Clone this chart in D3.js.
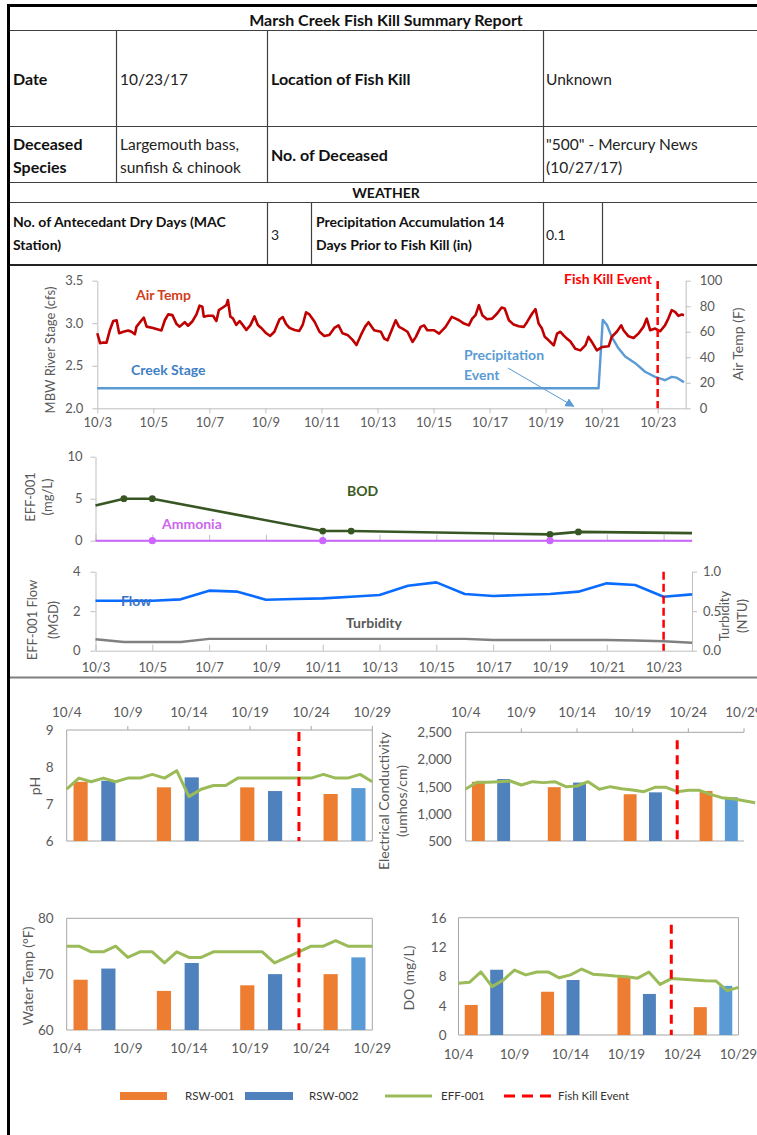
<!DOCTYPE html>
<html>
<head>
<meta charset="utf-8">
<title>Marsh Creek Fish Kill Summary Report</title>
<script src="https://cdn.jsdelivr.net/npm/d3@7/dist/d3.min.js"></script>
<style>
  html, body { margin: 0; padding: 0; background: #fff; }
  svg { display: block; }
</style>
</head>
<body>
<svg id="report" width="757" height="1135"></svg>
<script>
// ================= DATA =================
// Report header
const reportTitle = "Marsh Creek Fish Kill Summary Report";
const killDateText = "10/23/17";
const killLocation = "Unknown";
const deceasedSpecies = ["Largemouth bass,", "sunfish & chinook"];
const deceasedCount = ["\"500\" - Mercury News", "(10/27/17)"];
const dryDays = "3";
const precip14Days = "0.1";

// Weather panel: air temperature (deg F) and creek stage (cfs), days after 10/3 00:00
const airTempDay = [0.00,0.10,0.21,0.33,0.45,0.57,0.69,0.78,0.93,1.10,1.22,1.34,1.40,1.58,1.66,1.76,1.99,2.29,2.41,2.53,2.68,2.83,2.94,3.12,3.24,3.39,3.54,3.65,3.75,3.80,3.95,4.13,4.25,4.34,4.48,4.61,4.66,4.75,4.84,4.96,5.08,5.20,5.32,5.46,5.61,5.73,5.85,6.03,6.17,6.32,6.50,6.62,6.74,6.86,7.04,7.21,7.33,7.45,7.57,7.75,7.93,8.10,8.28,8.46,8.61,8.75,8.93,9.11,9.25,9.41,9.56,9.68,
  9.88,10.12,10.24,10.36,10.53,10.65,10.77,10.89,11.07,11.25,11.37,11.54,11.66,11.78,12.02,12.20,12.43,12.65,12.79,12.91,13.09,13.26,13.38,13.50,13.62,13.74,13.91,14.09,14.27,14.43,14.54,14.69,14.86,15.04,15.22,15.34,15.52,15.64,15.75,15.87,15.97,16.11,16.29,16.41,16.53,16.64,16.76,16.88,17.06,17.24,17.42,17.53,17.65,17.83,18.01,18.25,18.36,18.54,18.70,18.78,18.96,19.14,19.31,19.49,19.61,19.73,19.91,20.09,20.26,20.38,20.50,20.62,20.74,20.86,20.94];
const airTempF = [58.8,51,51.5,51.5,61.4,68.4,69,58.8,60,61,60,58,64,69,71,64,63,61,69,73.6,73,66,64,67.5,64.7,68,73.6,80.4,79.6,71.8,72.5,72.5,68.4,77,79,81,84.9,71.8,70.5,65.3,68.4,65,61.4,65,72,65.3,63,58.8,56.7,60,69.6,71.5,66,63,61.4,60.6,65.3,75.2,73.6,68,60,56.7,57.5,63,65,58.8,57.5,53.6,49.6,57.5,64,67.5,
  61.2,60,54.6,53.3,62.5,69,63.8,62.5,60,52,56,63.8,65,61.2,61.2,58.5,63.8,71.7,70.3,69,66.4,65,70.3,73,80.8,73,69.8,70.3,74.3,79,78.2,69,65.6,64.3,63.8,67.7,74.3,77.7,66.4,62.5,56,53.3,49.3,58.5,60,57.2,54.6,52.5,46.7,45.4,49.3,56,52,45.4,48,48.6,56,60,65,61.2,56.4,55.1,58.5,63.8,70.3,61.2,62.5,60.4,65,70.3,76.9,75.6,72.4,73.5,73];
const creekStageDay = [0, 17.89, 18.04, 18.19, 18.36, 18.60, 18.84, 19.20, 19.55, 19.91, 20.26, 20.50, 20.68, 20.94];
const creekStageCfs = [2.235, 2.235, 3.04, 2.98, 2.84, 2.705, 2.61, 2.53, 2.43, 2.37, 2.33, 2.37, 2.36, 2.305];
const stageTicks = [2.0, 2.5, 3.0, 3.5];
const airTempTicks = [0, 20, 40, 60, 80, 100];
const precipEventDate = "10/20";
const fishKillDate = "10/23";

// Effluent (EFF-001) daily record
const effDates = ["10/3","10/4","10/5","10/6","10/7","10/8","10/9","10/10","10/11","10/12","10/13","10/14","10/15","10/16","10/17","10/18","10/19","10/20","10/21","10/22","10/23","10/24"];
const dailyTickDates = ["10/3","10/5","10/7","10/9","10/11","10/13","10/15","10/17","10/19","10/21","10/23"];
const bodDates = ["10/3","10/4","10/5","10/11","10/12","10/19","10/20","10/24"];
const bodMgL = [4.2, 5.0, 5.0, 1.15, 1.15, 0.75, 1.05, 0.9];
const bodSampleDates = ["10/4","10/5","10/11","10/12","10/19","10/20"];
const ammoniaDates = ["10/3","10/5","10/11","10/19","10/24"];
const ammoniaMgL = [0, 0, 0, 0, 0];
const ammoniaSampleDates = ["10/5","10/11","10/19"];
const bodTicks = [0, 5, 10];
const flowMGD = [2.53,2.53,2.53,2.6,3.04,2.99,2.58,2.62,2.65,2.73,2.82,3.29,3.46,2.87,2.77,2.82,2.87,2.99,3.41,3.33,2.73,2.85];
const turbidityNTU = [0.145,0.11,0.11,0.11,0.15,0.15,0.15,0.15,0.15,0.15,0.15,0.15,0.15,0.15,0.135,0.135,0.135,0.135,0.135,0.13,0.12,0.10];
const flowTicks = [0, 2, 4];
const turbidityTicks = [0, 0.5, 1.0];

// Receiving water (RSW) grab samples and effluent daily values
const labDates = ["10/4","10/5","10/6","10/7","10/8","10/9","10/10","10/11","10/12","10/13","10/14","10/15","10/16","10/17","10/18","10/19","10/20","10/21","10/22","10/23","10/24","10/25","10/26","10/27","10/28","10/29"];
const labTickDates = ["10/4","10/9","10/14","10/19","10/24","10/29"];
const sampleCategories = ["R1-001","R1-002","gap1","R2-001","R2-002","gap2","R3-001","R3-002","gap3","R4-001","R4-002"];
const sampleRounds = [1, 2, 3, 4];

const phEff = [7.4,7.7,7.6,7.7,7.6,7.7,7.7,7.8,7.7,7.9,7.2,7.4,7.5,7.5,7.7,7.7,7.7,7.7,7.7,7.7,7.7,7.8,7.7,7.7,7.8,7.6];
const phRsw001 = [7.6, 7.45, 7.45, 7.27];
const phRsw002 = [7.63, 7.72, 7.35, 7.43];
const phTicks = [6, 7, 8, 9];

const ecEffDates = labDates.concat(["10/30"]);
const ecEff = [1457,1580,1580,1592,1604,1531,1592,1574,1592,1500,1512,1592,1451,1500,1463,1439,1408,1488,1488,1408,1433,1433,1359,1297,1279,1242,1205];
const ecRsw001 = [1590, 1490, 1360, 1420];
const ecRsw002 = [1640, 1575, 1395, 1305];
const ecTicks = [500, 1000, 1500, 2000, 2500];

const wtEff = [75,75,74,74,75,73,74,74,72,74,73,73,74,74,74,74,74,72,73,74,75,75,76,75,75,75];
const wtRsw001 = [69, 67, 68, 70];
const wtRsw002 = [71, 72, 70, 73];
const wtTicks = [60, 70, 80];

const doEff = [7.05,7.2,8.6,6.6,7.5,8.86,8.2,8.6,8.6,7.8,8.2,9.0,8.3,8.2,8.05,7.95,7.75,8.6,6.9,7.7,7.6,7.5,7.4,7.35,6.05,6.5];
const doRsw001 = [4.1, 5.9, 7.9, 3.8];
const doRsw002 = [8.9, 7.5, 5.6, 6.7];
const doTicks = [0, 4, 8, 12, 16];

const legendItems = ["RSW-001", "RSW-002", "EFF-001", "Fish Kill Event"];

// ================= DRAWING =================
const svg = d3.select("#report");
const FONT = "Lato, 'Noto Sans', sans-serif";
const INK = "#111";
const TICK_TXT = "#595959";
const AXIS_CLR = "#BFBFBF";
const GRID = "#404040";
const ORANGE = "#ED7D31", BLUE = "#4F81BD", LIGHT_BLUE = "#5B9BD5", GREEN = "#9BBB59", RED = "#FF0000";

const parseDate = d3.timeParse("%m/%d/%Y");
const toDate = s => parseDate(s + "/2017");
const startDay = toDate("10/3");
const fromOffset = d => new Date(startDay.getTime() + d * 864e5);
const fmtMD = d3.timeFormat("%-m/%-d");

function label(x, y, str, o = {}) {
  return svg.append("text")
    .attr("x", x).attr("y", y).text(str)
    .attr("font-family", FONT)
    .attr("font-size", o.size || 14)
    .attr("font-weight", o.bold ? 700 : 400)
    .attr("fill", o.fill || INK)
    .attr("text-anchor", o.anchor || "start")
    .attr("dominant-baseline", o.baseline || "auto");
}
function vlabel(x, cy, str, o = {}) {
  return svg.append("text")
    .attr("transform", `translate(${x},${cy}) rotate(-90)`)
    .text(str)
    .attr("font-family", FONT)
    .attr("font-size", o.size || 13)
    .attr("font-weight", o.bold ? 700 : 400)
    .attr("fill", o.fill || TICK_TXT)
    .attr("text-anchor", "middle")
    .attr("dominant-baseline", "central");
}
function seg(x1, y1, x2, y2, stroke, w, dash) {
  const l = svg.append("line")
    .attr("x1", x1).attr("y1", y1).attr("x2", x2).attr("y2", y2)
    .attr("stroke", stroke).attr("stroke-width", w);
  if (dash) l.attr("stroke-dasharray", dash);
  return l;
}
function styleAxis(g, size) {
  g.attr("font-family", FONT).attr("font-size", size || 13);
  g.select(".domain").attr("stroke", AXIS_CLR);
  g.selectAll(".tick line").attr("stroke", AXIS_CLR);
  g.selectAll(".tick text").attr("fill", TICK_TXT);
}

// ---------- header table ----------
seg(10, 30.5, 757, 30.5, GRID, 1.2);
seg(10, 126.5, 757, 126.5, GRID, 1.2);
seg(10, 182.5, 757, 182.5, GRID, 1.2);
seg(10, 202.5, 757, 202.5, GRID, 1.2);
[116.5, 267.5, 543.5].forEach(x => seg(x, 30.5, x, 182.5, GRID, 1.2));
[267.5, 311.5, 543.5, 602.5].forEach(x => seg(x, 202.5, x, 265, GRID, 1.2));

const HB = 16, HN = 15.5;
label(386, 25.5, reportTitle, { bold: true, anchor: "middle", size: HB });
label(13, 85, "Date", { bold: true, size: HB });
label(120, 85, killDateText, { fill: "#222", size: HN });
label(271, 85, "Location of Fish Kill", { bold: true, size: HB });
label(546, 85, killLocation, { fill: "#222", size: HN });
label(13, 149.5, "Deceased", { bold: true, size: HB });
label(13, 172.5, "Species", { bold: true, size: HB });
label(120, 149.5, deceasedSpecies[0], { fill: "#222", size: HN });
label(120, 172.5, deceasedSpecies[1], { fill: "#222", size: HN });
label(271, 160.5, "No. of Deceased", { bold: true, size: HB });
label(546, 149.5, deceasedCount[0], { fill: "#222", size: HN });
label(546, 172.5, deceasedCount[1], { fill: "#222", size: HN });
label(386, 198, "WEATHER", { bold: true, anchor: "middle" });
label(13, 227, "No. of Antecedant Dry Days (MAC", { bold: true });
label(13, 250, "Station)", { bold: true });
label(271, 240, dryDays, { fill: "#222" });
label(316, 227, "Precipitation Accumulation 14", { bold: true });
label(316, 250, "Days Prior to Fish Kill (in)", { bold: true });
label(546, 240, precip14Days, { fill: "#222" });

// section separators
seg(8, 265, 757, 265, "#222", 2);
seg(10, 677.5, 757, 677.5, "#7F7F7F", 2.2);

// ---------- weather panel ----------
const topX = d3.scaleTime().domain([toDate("10/3"), toDate("10/24")]).range([97.3, 685.7]);
const stageY = d3.scaleLinear().domain([2.0, 3.5]).range([408.3, 280.7]);
const tempY = d3.scaleLinear().domain([0, 100]).range([408.3, 280.7]);

styleAxis(svg.append("g").attr("transform", "translate(97.3,0)")
  .call(d3.axisLeft(stageY).tickValues(stageTicks).tickFormat(d3.format(".1f")).tickSize(5).tickSizeOuter(0).tickPadding(9)));
styleAxis(svg.append("g").attr("transform", "translate(685.7,0)")
  .call(d3.axisRight(tempY).tickValues(airTempTicks).tickFormat(d3.format("d")).tickSize(5).tickSizeOuter(0).tickPadding(9)));
styleAxis(svg.append("g").attr("transform", "translate(0,408.3)")
  .call(d3.axisBottom(topX).tickValues(dailyTickDates.map(toDate)).tickFormat(fmtMD).tickSize(5).tickSizeOuter(0).tickPadding(4)));

vlabel(50, 350, "MBW River Stage (cfs)", { size: 13 });
vlabel(737, 344, "Air Temp (F)", { size: 14 });

const stageLine = d3.line().x(d => topX(fromOffset(d[0]))).y(d => stageY(d[1]));
svg.append("path").datum(d3.zip(creekStageDay, creekStageCfs))
  .attr("d", stageLine).attr("fill", "none").attr("stroke", LIGHT_BLUE)
  .attr("stroke-width", 2.4).attr("stroke-linejoin", "round");

const tempLine = d3.line().x(d => topX(fromOffset(d[0]))).y(d => tempY(d[1]));
svg.append("path").datum(d3.zip(airTempDay, airTempF))
  .attr("d", tempLine).attr("fill", "none").attr("stroke", "#C00000")
  .attr("stroke-width", 2.6).attr("stroke-linejoin", "round");

const killXTop = topX(toDate(fishKillDate));
seg(killXTop, 281, killXTop, 408.3, RED, 2.5, "8,4");
label(652, 284, "Fish Kill Event", { bold: true, fill: RED, anchor: "end" });
label(136, 300, "Air Temp", { bold: true, fill: "#D0401C" });
label(131, 375, "Creek Stage", { bold: true, fill: "#3F7FC4" });
label(464, 360, "Precipitation", { bold: true, fill: LIGHT_BLUE });
label(464, 380, "Event", { bold: true, fill: LIGHT_BLUE });

// precipitation event arrow
const defs = svg.append("defs");
defs.append("marker").attr("id", "arrowHead").attr("viewBox", "0 0 10 10")
  .attr("refX", 9).attr("refY", 5).attr("markerWidth", 9).attr("markerHeight", 9)
  .attr("markerUnits", "userSpaceOnUse").attr("orient", "auto")
  .append("path").attr("d", "M0,0 L10,5 L0,10 Z").attr("fill", LIGHT_BLUE);
seg(508, 368, topX(toDate(precipEventDate)), stageY(2.0) - 2, LIGHT_BLUE, 1)
  .attr("marker-end", "url(#arrowHead)");

// ---------- effluent panels ----------
const effX = d3.scaleTime().domain([toDate("10/3"), toDate("10/24")]).range([95.5, 692]);
const bodY = d3.scaleLinear().domain([0, 10]).range([540.7, 456.7]);
const flowY = d3.scaleLinear().domain([0, 4]).range([650.7, 571.7]);
const turbY = d3.scaleLinear().domain([0, 1]).range([650.7, 571.7]);

styleAxis(svg.append("g").attr("transform", "translate(95.5,0)")
  .call(d3.axisLeft(bodY).tickValues(bodTicks).tickFormat(d3.format("d")).tickSize(5).tickSizeOuter(0).tickPadding(8)));
// BOD/ammonia baseline ticks (inside)
styleAxis(svg.append("g").attr("transform", "translate(0,540.7)")
  .call(d3.axisTop(effX).tickValues(dailyTickDates.map(toDate)).tickFormat("").tickSize(6).tickSizeOuter(0)));

vlabel(29.5, 497, "EFF-001", { size: 13 });
vlabel(47, 497, "(mg/L)", { size: 13 });

const bodLine = d3.line().x(d => effX(toDate(d[0]))).y(d => bodY(d[1]));
svg.append("path").datum(d3.zip(bodDates, bodMgL)).attr("d", bodLine)
  .attr("fill", "none").attr("stroke", "#375623").attr("stroke-width", 2.6).attr("stroke-linejoin", "round");
svg.selectAll("circle.bod").data(d3.zip(bodDates, bodMgL).filter(d => bodSampleDates.includes(d[0])))
  .join("circle").attr("class", "bod")
  .attr("cx", d => effX(toDate(d[0]))).attr("cy", d => bodY(d[1])).attr("r", 3.4).attr("fill", "#375623");

svg.append("path").datum(d3.zip(ammoniaDates, ammoniaMgL)).attr("d", bodLine)
  .attr("fill", "none").attr("stroke", "#CC66FF").attr("stroke-width", 2);
svg.selectAll("circle.nh3").data(d3.zip(ammoniaDates, ammoniaMgL).filter(d => ammoniaSampleDates.includes(d[0])))
  .join("circle").attr("class", "nh3")
  .attr("cx", d => effX(toDate(d[0]))).attr("cy", d => bodY(d[1])).attr("r", 3.6).attr("fill", "#CC66FF");

label(347, 496, "BOD", { bold: true, fill: "#3A5A1E" });
label(162, 529, "Ammonia", { bold: true, fill: "#CC66EE" });

// flow / turbidity
styleAxis(svg.append("g").attr("transform", "translate(95.5,0)")
  .call(d3.axisLeft(flowY).tickValues(flowTicks).tickFormat(d3.format("d")).tickSize(5).tickSizeOuter(0).tickPadding(10)));
styleAxis(svg.append("g").attr("transform", "translate(692,0)")
  .call(d3.axisRight(turbY).tickValues(turbidityTicks).tickFormat(d3.format(".1f")).tickSize(5).tickSizeOuter(0).tickPadding(6)));
styleAxis(svg.append("g").attr("transform", "translate(0,650.7)")
  .call(d3.axisTop(effX).tickValues(dailyTickDates.map(toDate)).tickFormat("").tickSize(6).tickSizeOuter(0)));
const effLabels = svg.append("g").attr("transform", "translate(0,650.7)")
  .call(d3.axisBottom(effX).tickValues(dailyTickDates.map(toDate)).tickFormat(fmtMD).tickSize(0).tickPadding(12));
styleAxis(effLabels);
effLabels.select(".domain").remove();

vlabel(32, 620, "EFF-001  Flow", { size: 13 });
vlabel(52.5, 620, "(MGD)", { size: 13 });
vlabel(723.5, 616, "Turbidity", { size: 13 });
vlabel(741.5, 616, "(NTU)", { size: 13 });

svg.append("path").datum(d3.zip(effDates, turbidityNTU))
  .attr("d", d3.line().x(d => effX(toDate(d[0]))).y(d => turbY(d[1])))
  .attr("fill", "none").attr("stroke", "#808080").attr("stroke-width", 2.4).attr("stroke-linejoin", "round");
svg.append("path").datum(d3.zip(effDates, flowMGD))
  .attr("d", d3.line().x(d => effX(toDate(d[0]))).y(d => flowY(d[1])))
  .attr("fill", "none").attr("stroke", "#0A6CFF").attr("stroke-width", 2.6).attr("stroke-linejoin", "round");

label(121, 606, "Flow", { bold: true, fill: "#3B73C4" });
label(346, 628, "Turbidity", { bold: true, fill: "#595959" });
const killXEff = effX(toDate(fishKillDate));
seg(killXEff, 571.7, killXEff, 650.7, RED, 2.5, "8,4");

// ---------- receiving water panels ----------
function labPanel(p) {
  const x = d3.scaleTime().domain([toDate("10/4"), toDate("10/29")]).range([p.left, p.right]);
  const y = d3.scaleLinear().domain(p.yDomain).range([p.bottom, p.top]);
  const band = d3.scaleBand().domain(sampleCategories).range([p.left, p.right])
    .paddingInner(0.49).paddingOuter(0.245);
  const g = svg.append("g");
  const frame = "#A6A6A6";

  // plot frame
  g.append("line").attr("x1", p.left).attr("x2", p.right).attr("y1", p.top).attr("y2", p.top).attr("stroke", frame);
  g.append("line").attr("x1", p.left).attr("x2", p.right).attr("y1", p.bottom).attr("y2", p.bottom).attr("stroke", frame);
  g.append("line").attr("x1", p.left).attr("x2", p.left).attr("y1", p.top).attr("y2", p.bottom).attr("stroke", frame);
  if (p.rightEdge) g.append("line").attr("x1", p.right).attr("x2", p.right).attr("y1", p.top).attr("y2", p.bottom).attr("stroke", frame);

  // bars
  const bars = [];
  sampleRounds.forEach((r, i) => {
    bars.push({ cat: `R${r}-001`, site: "RSW-001", round: r, v: p.rsw001[i] });
    bars.push({ cat: `R${r}-002`, site: "RSW-002", round: r, v: p.rsw002[i] });
  });
  const barColor = d => d.site === "RSW-001" ? ORANGE : (d.round === 4 ? LIGHT_BLUE : BLUE);
  g.selectAll("rect").data(bars).join("rect")
    .attr("x", d => band(d.cat)).attr("width", band.bandwidth())
    .attr("y", d => y(d.v)).attr("height", d => y(p.yDomain[0]) - y(d.v))
    .attr("fill", barColor);

  // effluent line
  g.append("path").datum(d3.zip(p.lineDates, p.lineValues))
    .attr("d", d3.line().x(d => x(toDate(d[0]))).y(d => y(d[1])))
    .attr("fill", "none").attr("stroke", GREEN).attr("stroke-width", 3).attr("stroke-linejoin", "round");

  // fish kill marker
  const kx = x(toDate(fishKillDate));
  g.append("line").attr("x1", kx).attr("x2", kx).attr("y1", p.top + p.killPad).attr("y2", p.bottom)
    .attr("stroke", RED).attr("stroke-width", 3).attr("stroke-dasharray", "9,6");

  // y tick labels
  g.selectAll("text.yt").data(p.yTicks).join("text").attr("class", "yt")
    .attr("x", p.left - p.yPad).attr("y", d => y(d)).text(p.yFormat)
    .attr("text-anchor", "end").attr("dominant-baseline", "central")
    .attr("font-family", FONT).attr("font-size", 13.5).attr("fill", TICK_TXT);

  // x tick labels (top or bottom)
  g.selectAll("text.xt").data(labTickDates).join("text").attr("class", "xt")
    .attr("x", d => x(toDate(d))).attr("y", p.xLabelY).text(d => d)
    .attr("text-anchor", "middle").attr("dominant-baseline", "central")
    .attr("font-family", FONT).attr("font-size", 13.5).attr("fill", TICK_TXT);
  if (p.topTicks) {
    g.selectAll("line.xtk").data(labTickDates.slice(1)).join("line").attr("class", "xtk")
      .attr("x1", d => x(toDate(d))).attr("x2", d => x(toDate(d)))
      .attr("y1", p.top - 4).attr("y2", p.top).attr("stroke", frame);
  }
  p.yLabel.forEach((t, i) => vlabel(p.yLabelX[i], p.yLabelCy, t, { size: 14 }));
}

labPanel({ left: 66.7, right: 372.3, top: 730, bottom: 841, yDomain: [6, 9], yTicks: phTicks, yFormat: d => d,
  yPad: 13, xLabelY: 712, topTicks: true, rightEdge: true, killPad: 2,
  lineDates: labDates, lineValues: phEff, rsw001: phRsw001, rsw002: phRsw002,
  yLabel: ["pH"], yLabelX: [34], yLabelCy: 786 });

labPanel({ left: 465.7, right: 744, top: 732.3, bottom: 841, yDomain: [500, 2500], yTicks: ecTicks, yFormat: d3.format(","),
  yPad: 14, xLabelY: 712, topTicks: true, rightEdge: false, killPad: 8,
  lineDates: ecEffDates, lineValues: ecEff, rsw001: ecRsw001, rsw002: ecRsw002,
  yLabel: ["Electrical Conductivity", "(umhos/cm)"], yLabelX: [383, 401], yLabelCy: 801 });

labPanel({ left: 66.7, right: 372.3, top: 918.3, bottom: 1030, yDomain: [60, 80], yTicks: wtTicks, yFormat: d => d,
  yPad: 13, xLabelY: 1048, topTicks: false, rightEdge: true, killPad: 0,
  lineDates: labDates, lineValues: wtEff, rsw001: wtRsw001, rsw002: wtRsw002,
  yLabel: ["Water Temp (°F)"], yLabelX: [27], yLabelCy: 976 });

labPanel({ left: 458.5, right: 738.5, top: 917.7, bottom: 1035, yDomain: [0, 16], yTicks: doTicks, yFormat: d => d,
  yPad: 12, xLabelY: 1054, topTicks: false, rightEdge: true, killPad: 7,
  lineDates: labDates, lineValues: doEff, rsw001: doRsw001, rsw002: doRsw002,
  yLabel: ["DO (mg/L)"], yLabelX: [408], yLabelCy: 978 });

// ---------- legend ----------
const lg = svg.append("g").attr("font-family", FONT).attr("font-size", 11.5).attr("fill", "#333");
lg.append("rect").attr("x", 120).attr("y", 1092).attr("width", 47).attr("height", 8).attr("fill", ORANGE);
lg.append("text").attr("x", 185).attr("y", 1100).text(legendItems[0]);
lg.append("rect").attr("x", 245).attr("y", 1092).attr("width", 48).attr("height", 8).attr("fill", BLUE);
lg.append("text").attr("x", 309).attr("y", 1100).text(legendItems[1]);
lg.append("line").attr("x1", 385).attr("x2", 432).attr("y1", 1096).attr("y2", 1096).attr("stroke", GREEN).attr("stroke-width", 3);
lg.append("text").attr("x", 441).attr("y", 1100).text(legendItems[2]);
lg.append("line").attr("x1", 504).attr("x2", 551).attr("y1", 1096).attr("y2", 1096).attr("stroke", RED)
  .attr("stroke-width", 3).attr("stroke-dasharray", "11,7");
lg.append("text").attr("x", 558).attr("y", 1100).text(legendItems[3]);

// outer frame
seg(7, 5.5, 757, 5.5, "#000", 3);
seg(8.5, 4, 8.5, 1135, "#000", 3);
</script>
</body>
</html>
